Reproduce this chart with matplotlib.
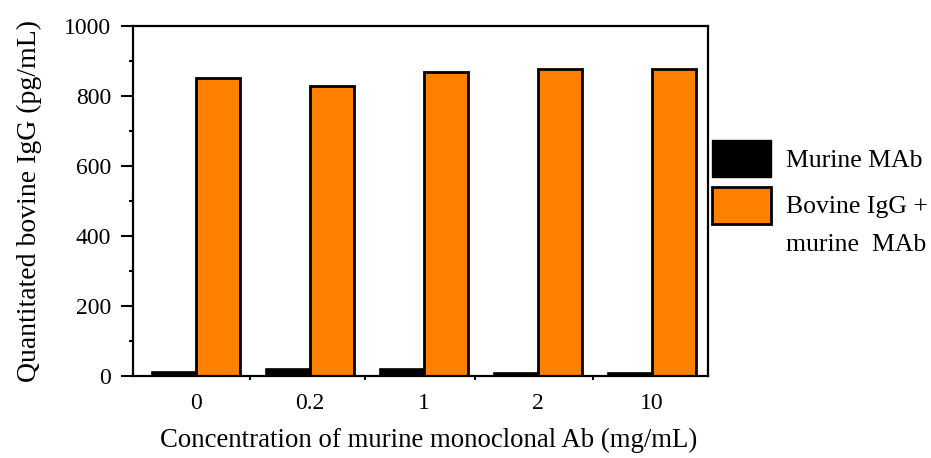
import numpy as np
import matplotlib
matplotlib.use("Agg")
import matplotlib.pyplot as plt
from matplotlib.patches import Patch
from matplotlib.ticker import MultipleLocator, FixedLocator

# data
concentrations = ["0", "0.2", "1", "2", "10"]
murine_mab = [11, 19, 19, 10, 10]
bovine_igg_mab = [852, 829, 868, 877, 876]

series_labels = ["Murine MAb", "Bovine IgG +"]
orange = "#FF8000"

plt.rcParams["font.family"] = ["Liberation Serif", "DejaVu Serif"]
plt.rcParams["font.size"] = 17

fig = plt.figure(figsize=(9.31, 4.58), dpi=100)
ax = fig.add_axes([0.1429, 0.179, 0.6176, 0.764])

x = np.arange(len(concentrations))
w = 0.385
ax.bar(x - w / 2, murine_mab, width=w, color="black", edgecolor="black", linewidth=1.2)
ax.bar(x + w / 2, bovine_igg_mab, width=w, color=orange, edgecolor="black", linewidth=2)

ax.set_xlim(-0.553, 4.49)
ax.set_ylim(0, 1000)
ax.yaxis.set_major_locator(MultipleLocator(200))
ax.yaxis.set_minor_locator(MultipleLocator(100))
ax.set_xticks(x, labels=concentrations)
ax.xaxis.set_minor_locator(FixedLocator([0.47, 1.48, 2.45, 3.48]))

for s in ax.spines.values():
    s.set_linewidth(1.6)
ax.tick_params(axis="y", which="major", direction="out", length=8.6, width=1.5, pad=7)
ax.tick_params(axis="y", which="minor", direction="out", length=3, width=1.5)
ax.tick_params(axis="x", which="major", length=0, pad=12)
ax.tick_params(axis="x", which="minor", direction="out", length=3, width=1.5)

ax.set_ylabel("Quantitated bovine IgG (pg/mL)", fontsize=20, labelpad=16)
ax.set_xlabel("Concentration of murine monoclonal Ab (mg/mL)", fontsize=19.3, labelpad=10)
ax.xaxis.label.set_x(0.514)

handles = [Patch(facecolor="black", edgecolor="black"),
           Patch(facecolor=orange, edgecolor="black", linewidth=2)]
leg = fig.legend(handles, series_labels, loc="upper left", bbox_to_anchor=(0.7535, 0.717),
                 frameon=False, fontsize=18.5, handlelength=2.3, handleheight=1.84,
                 handletextpad=0.6, labelspacing=0.38, borderaxespad=0)
fig.canvas.draw()
# second line of the two-line label, placed under the first one
t = leg.get_texts()[1]
bb = t.get_window_extent().transformed(fig.transFigure.inverted())
fig.text(bb.x0, bb.y0 - 0.082, "murine  MAb", fontsize=18.5, ha="left", va="bottom")

fig.savefig("out.png", dpi=100)
